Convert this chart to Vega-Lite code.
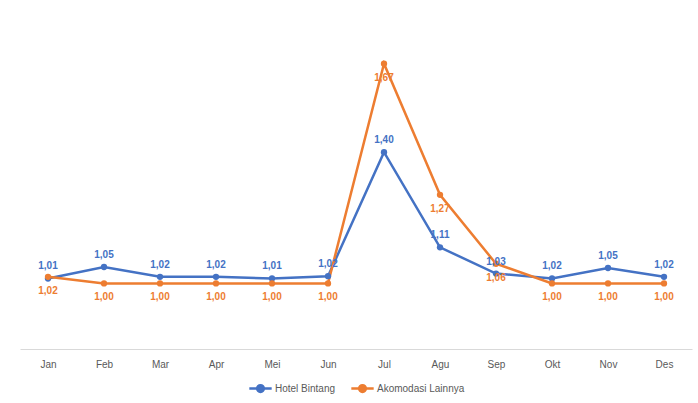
{
  "$schema": "https://vega.github.io/schema/vega-lite/v6.json",
  "autosize": "none",
  "width": 672,
  "height": 328,
  "padding": {"left": 20, "top": 21, "right": 6, "bottom": 54},
  "background": "white",
  "config": {
    "view": {"stroke": null},
    "font": "Liberation Sans"
  },
  "data": {
    "values": [
      {"bulan": "Jan", "jenis": "Hotel Bintang", "nilai": 1.015, "label": "1,01"},
      {"bulan": "Feb", "jenis": "Hotel Bintang", "nilai": 1.05, "label": "1,05"},
      {"bulan": "Mar", "jenis": "Hotel Bintang", "nilai": 1.02, "label": "1,02"},
      {"bulan": "Apr", "jenis": "Hotel Bintang", "nilai": 1.02, "label": "1,02"},
      {"bulan": "Mei", "jenis": "Hotel Bintang", "nilai": 1.015, "label": "1,01"},
      {"bulan": "Jun", "jenis": "Hotel Bintang", "nilai": 1.022, "label": "1,02"},
      {"bulan": "Jul", "jenis": "Hotel Bintang", "nilai": 1.40, "label": "1,40"},
      {"bulan": "Agu", "jenis": "Hotel Bintang", "nilai": 1.11, "label": "1,11"},
      {"bulan": "Sep", "jenis": "Hotel Bintang", "nilai": 1.03, "label": "1,03"},
      {"bulan": "Okt", "jenis": "Hotel Bintang", "nilai": 1.015, "label": "1,02"},
      {"bulan": "Nov", "jenis": "Hotel Bintang", "nilai": 1.047, "label": "1,05"},
      {"bulan": "Des", "jenis": "Hotel Bintang", "nilai": 1.02, "label": "1,02"},
      {"bulan": "Jan", "jenis": "Akomodasi Lainnya", "nilai": 1.02, "label": "1,02"},
      {"bulan": "Feb", "jenis": "Akomodasi Lainnya", "nilai": 1.0, "label": "1,00"},
      {"bulan": "Mar", "jenis": "Akomodasi Lainnya", "nilai": 1.0, "label": "1,00"},
      {"bulan": "Apr", "jenis": "Akomodasi Lainnya", "nilai": 1.0, "label": "1,00"},
      {"bulan": "Mei", "jenis": "Akomodasi Lainnya", "nilai": 1.0, "label": "1,00"},
      {"bulan": "Jun", "jenis": "Akomodasi Lainnya", "nilai": 1.0, "label": "1,00"},
      {"bulan": "Jul", "jenis": "Akomodasi Lainnya", "nilai": 1.67, "label": "1,67"},
      {"bulan": "Agu", "jenis": "Akomodasi Lainnya", "nilai": 1.27, "label": "1,27"},
      {"bulan": "Sep", "jenis": "Akomodasi Lainnya", "nilai": 1.06, "label": "1,06"},
      {"bulan": "Okt", "jenis": "Akomodasi Lainnya", "nilai": 1.0, "label": "1,00"},
      {"bulan": "Nov", "jenis": "Akomodasi Lainnya", "nilai": 1.0, "label": "1,00"},
      {"bulan": "Des", "jenis": "Akomodasi Lainnya", "nilai": 1.0, "label": "1,00"}
    ]
  },
  "encoding": {
    "x": {
      "field": "bulan",
      "type": "ordinal",
      "sort": ["Jan","Feb","Mar","Apr","Mei","Jun","Jul","Agu","Sep","Okt","Nov","Des"],
      "scale": {"type": "point", "padding": 0.5},
      "axis": {
        "title": null,
        "labelAngle": 0,
        "ticks": false,
        "domainColor": "#d9d9d9",
        "domainWidth": 1,
        "labelColor": "#595959",
        "labelFontSize": 10,
        "labelPadding": 10
      }
    },
    "y": {
      "field": "nilai",
      "type": "quantitative",
      "scale": {"domain": [0.8, 1.8], "nice": false, "zero": false},
      "axis": null
    },
    "color": {
      "field": "jenis",
      "type": "nominal",
      "scale": {"domain": ["Hotel Bintang", "Akomodasi Lainnya"], "range": ["#4472C4", "#ED7D31"]},
      "legend": {
        "title": null,
        "orient": "none",
        "legendX": 228,
        "legendY": 355,
        "direction": "horizontal",
        "labelColor": "#595959",
        "labelFontSize": 10,
        "symbolType": "M -1 0 L -0.3 0 M 0.3 0 L 1 0 M 0.3 0 A 0.3 0.3 0 1 1 -0.3 0 A 0.3 0.3 0 1 1 0.3 0",
        "symbolSize": 500,
        "symbolStrokeWidth": 2.5,
        "columnPadding": 10,
        "labelOffset": 2
      }
    }
  },
  "layer": [
    {
      "mark": {"type": "line", "strokeWidth": 2.5, "point": {"size": 40, "filled": true}}
    },
    {
      "transform": [{"filter": "datum.jenis == 'Hotel Bintang'"}],
      "mark": {"type": "text", "baseline": "bottom", "dy": -7, "fontWeight": "bold", "fontSize": 10},
      "encoding": {"text": {"field": "label"}}
    },
    {
      "transform": [{"filter": "datum.jenis == 'Akomodasi Lainnya'"}],
      "mark": {"type": "text", "baseline": "top", "dy": 9, "fontWeight": "bold", "fontSize": 10},
      "encoding": {"text": {"field": "label"}}
    }
  ]
}
